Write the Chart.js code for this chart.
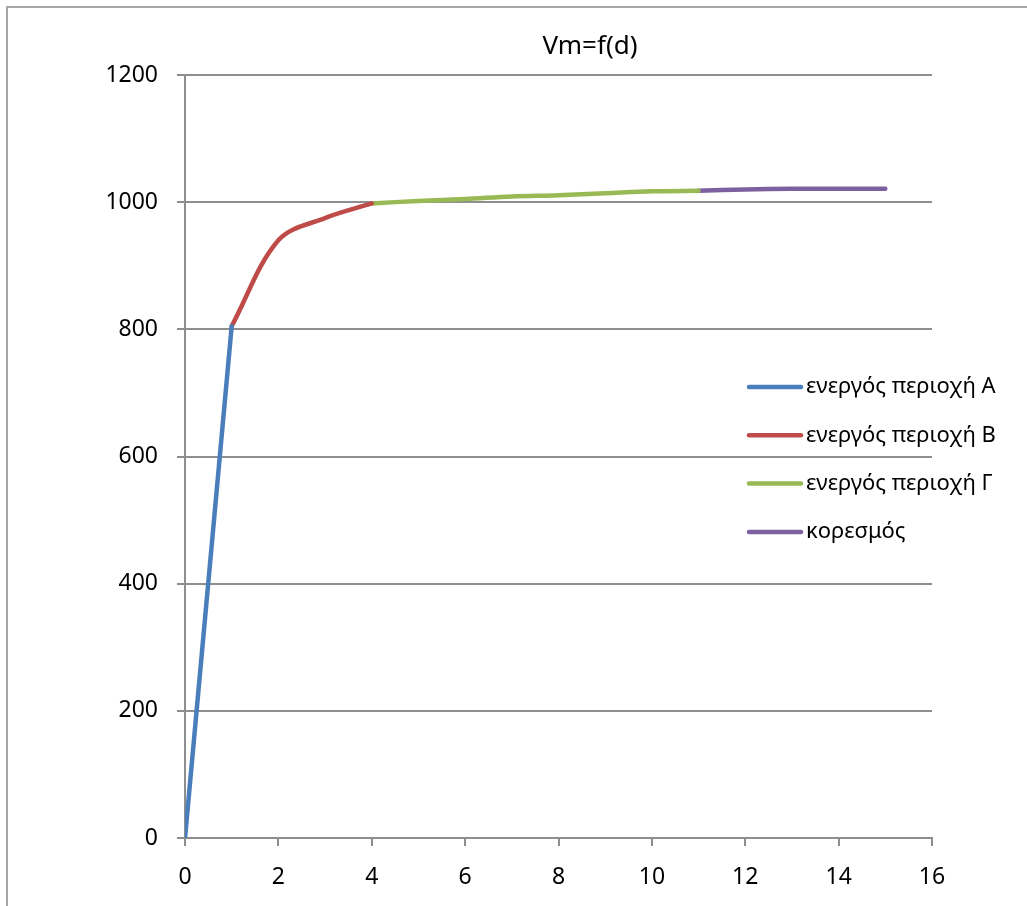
<!DOCTYPE html>
<html>
<head>
<meta charset="utf-8">
<title>Vm=f(d)</title>
<script src="https://cdn.jsdelivr.net/npm/chart.js@4.4.1/dist/chart.umd.min.js"></script>
<style>
  html, body { margin: 0; padding: 0; background: #fff; overflow: hidden; }
  #wrap { position: relative; width: 1027px; height: 906px; }
  #frame {
    position: absolute; left: 6px; top: 6px; width: 1100px; height: 1000px;
    border: 2px solid #a6a6a6; pointer-events: none;
  }
</style>
</head>
<body>
<div id="wrap">
  <canvas id="vm" width="1027" height="906"></canvas>
  <div id="frame"></div>
</div>
<script>
// d values and Vm for each region of the curve
var dA = [0, 1];
var vA = [0, 805];
var dB = [1, 2, 3, 4];
var vB = [805, 940, 975, 998];
var dC = [4, 5, 6, 7, 8, 9, 10, 11];
var vC = [998, 1002, 1005, 1009, 1011, 1014, 1017, 1018];
var dD = [11, 12, 13, 14, 15];
var vD = [1018, 1020, 1021, 1021, 1021];

var names = ['ενεργός περιοχή Α', 'ενεργός περιοχή Β', 'ενεργός περιοχή Γ', 'κορεσμός'];
var colors = ['#4a7ebb', '#be4b48', '#98b954', '#7d60a0'];

var xTicks = [0, 2, 4, 6, 8, 10, 12, 14, 16];
var yTicks = [0, 200, 400, 600, 800, 1000, 1200];

var FONT = '"Noto Sans", "DejaVu Sans", sans-serif';
var gridColor = '#8e8e8e';

function pts(xs, ys) {
    return xs.map(function(x, i) { return { x: x, y: ys[i] }; });
}

function series(i, xs, ys) {
    return {
        label: names[i],
        data: pts(xs, ys),
        borderColor: colors[i],
        backgroundColor: colors[i],
        borderWidth: 4.5,
        borderCapStyle: 'round',
        borderJoinStyle: 'round',
        pointRadius: 0,
        tension: 0.35,
        fill: false
    };
}

// title and legend sit at fixed spots over the plot
var overlay = {
    id: 'overlay',
    afterDraw: function(chart) {
        var c = chart.ctx;
        c.save();
        c.fillStyle = '#000';
        c.font = '26px ' + FONT;
        c.textAlign = 'center';
        c.textBaseline = 'middle';
        c.fillText('Vm=f(d)', 590, 47);

        c.font = '22px ' + FONT;
        c.textAlign = 'left';
        chart.data.datasets.forEach(function(ds, i) {
            var y = 387 + i * 48.3;
            c.strokeStyle = ds.borderColor;
            c.lineWidth = 4.5;
            c.lineCap = 'round';
            c.beginPath();
            c.moveTo(749, y);
            c.lineTo(801, y);
            c.stroke();
            c.fillText(ds.label, 806, y);
        });
        c.restore();
    }
};

function plain(v) { return String(v); }

var ctx = document.getElementById('vm').getContext('2d');
window.vmChart = new Chart(ctx, {
    type: 'line',
    data: {
        datasets: [
            series(0, dA, vA),
            series(1, dB, vB),
            series(2, dC, vC),
            series(3, dD, vD)
        ]
    },
    options: {
        responsive: false,
        animation: false,
        layout: { padding: { top: 75, right: 95, left: 0, bottom: 0 } },
        plugins: {
            legend: { display: false },
            title: { display: false },
            tooltip: { enabled: false }
        },
        scales: {
            x: {
                type: 'linear',
                min: 0,
                max: 16,
                afterFit: function(s) { s.height = 68; },
                afterBuildTicks: function(s) {
                    s.ticks = xTicks.map(function(v) { return { value: v }; });
                },
                grid: {
                    drawOnChartArea: false,
                    color: gridColor,
                    lineWidth: 2,
                    tickLength: 8
                },
                border: { color: gridColor, width: 2 },
                ticks: {
                    color: '#000',
                    padding: 18,
                    maxRotation: 0,
                    callback: plain,
                    font: { family: FONT, size: 23 }
                }
            },
            y: {
                type: 'linear',
                min: 0,
                max: 1200,
                afterFit: function(s) { s.width = 185; },
                afterBuildTicks: function(s) {
                    s.ticks = yTicks.map(function(v) { return { value: v }; });
                },
                grid: {
                    color: gridColor,
                    lineWidth: 2,
                    tickLength: 8
                },
                border: { color: gridColor, width: 2 },
                ticks: {
                    color: '#000',
                    padding: 19,
                    callback: plain,
                    font: { family: FONT, size: 23 }
                }
            }
        }
    },
    plugins: [overlay]
});
</script>
</body>
</html>
